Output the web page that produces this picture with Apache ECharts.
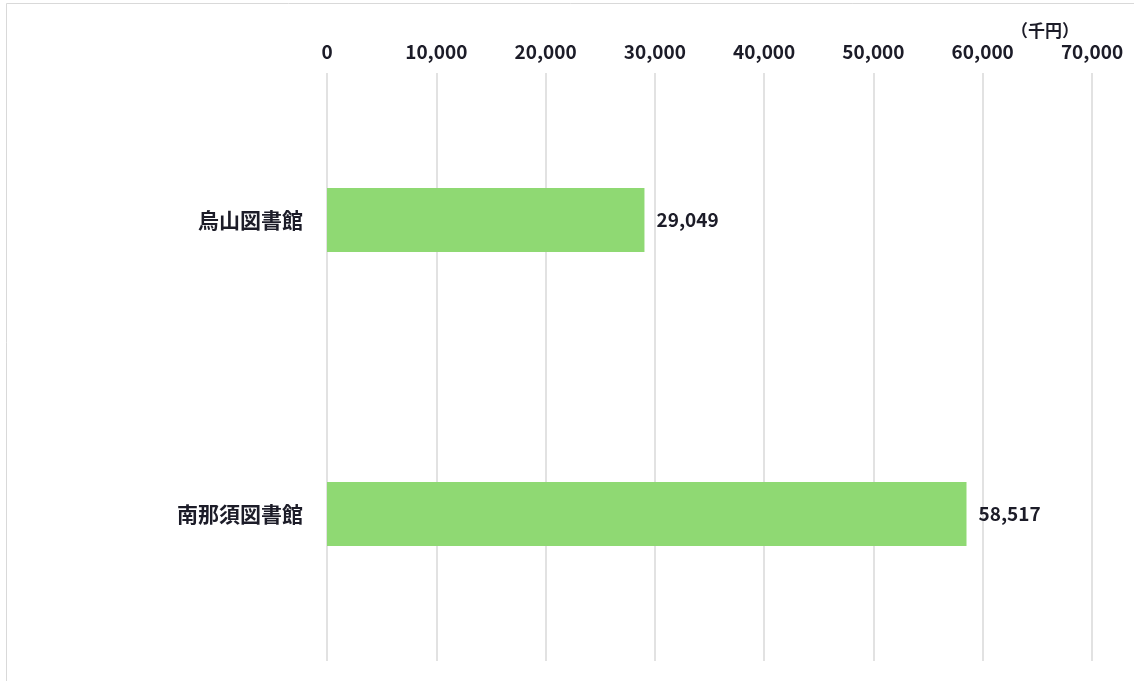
<!DOCTYPE html>
<html>
<head>
<meta charset="utf-8">
<script src="https://cdn.jsdelivr.net/npm/echarts@6/dist/echarts.min.js"></script>
<style>
  html, body { margin: 0; padding: 0; background: #fff; }
  #chart { width: 1134px; height: 681px; }
</style>
</head>
<body>
<div id="chart"></div>
<script>
// 図書館別 (千円)
const categories = ['烏山図書館', '南那須図書館'];
const values = [29049, 58517];
const axisMin = 0;
const axisMax = 70000;
const axisStep = 10000;

const barColor = '#8fd973';
const textColor = '#1c1c28';
const gridColor = '#d9d9d9';
const font = '"Noto Sans CJK JP", "Noto Sans", sans-serif';

const fmt = v => Number(v).toLocaleString('en-US');

const chart = echarts.init(document.getElementById('chart'));
chart.setOption({
    animation: false,
    backgroundColor: '#fff',
    textStyle: { fontFamily: font },
    title: {
        text: '（千円）',
        left: 1006,
        top: 17,
        textStyle: { fontSize: 17, fontWeight: 'bold', color: textColor, fontFamily: font }
    },
    graphic: [{
        type: 'rect',
        shape: { x: 6.5, y: 3.5, width: 1200, height: 800 },
        style: { fill: 'none', stroke: gridColor, lineWidth: 1 },
        silent: true
    }],
    grid: { left: 327, right: 42, top: 73, bottom: 20 },
    xAxis: {
        type: 'value',
        position: 'top',
        min: axisMin,
        max: axisMax,
        interval: axisStep,
        axisLine: { show: false },
        axisTick: { show: false },
        axisLabel: {
            margin: 12,
            fontSize: 19,
            fontWeight: 'bold',
            color: textColor,
            formatter: fmt
        },
        splitLine: { show: true, lineStyle: { color: gridColor, width: 1.5 } }
    },
    yAxis: {
        type: 'category',
        data: categories,
        inverse: true,
        axisLine: { show: false },
        axisTick: { show: false },
        axisLabel: {
            margin: 24,
            fontSize: 21,
            fontWeight: 'bold',
            color: textColor
        }
    },
    series: [{
        type: 'bar',
        data: values,
        barWidth: 64,
        itemStyle: { color: barColor },
        label: {
            show: true,
            position: 'right',
            distance: 12,
            fontSize: 19,
            fontWeight: 'bold',
            color: textColor,
            formatter: p => fmt(p.value)
        }
    }]
});
</script>
</body>
</html>
